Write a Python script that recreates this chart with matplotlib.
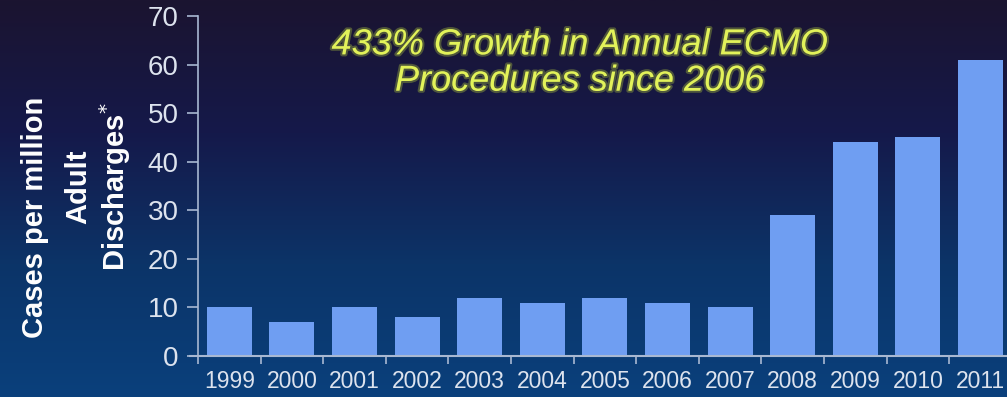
import numpy as np
from matplotlib import pyplot as plt
import matplotlib.patheffects as pe
from matplotlib.colors import LinearSegmentedColormap

years = ['1999', '2000', '2001', '2002', '2003', '2004', '2005',
         '2006', '2007', '2008', '2009', '2010', '2011']
cases = [10, 7, 10, 8, 12, 11, 12, 11, 10, 29, 44, 45, 61]
yticks = [0, 10, 20, 30, 40, 50, 60, 70]
note = '433% Growth in Annual ECMO\nProcedures since 2006'

plt.rcParams['font.family'] = ['Liberation Sans', 'DejaVu Sans']

fig = plt.figure(figsize=(10.07, 3.97), dpi=100)

# background gradient (dark purple top -> blue bottom)
bg = fig.add_axes([0, 0, 1, 1], zorder=-1)
cmap = LinearSegmentedColormap.from_list('bg', ['#1b1430', '#15194a', '#0c3468', '#0a407c'])
bg.imshow(np.linspace(0, 1, 256).reshape(-1, 1), aspect='auto', cmap=cmap,
          extent=[0, 1, 0, 1], origin='upper')
bg.axis('off')

W, H = 1007, 397
ax = fig.add_axes([198 / W, (H - 356) / H, 13 * 62.6 / W, 340 / H])
ax.patch.set_alpha(0)

x = np.arange(len(years))
ax.bar(x, cases, width=0.72, color='#6f9ef2', zorder=2)

ax.set_xlim(-0.5, len(years) - 0.5)
ax.set_ylim(0, 70)
ax.set_yticks(yticks)
ax.set_xticks(x)
ax.set_xticklabels(years, fontsize=16.5, color='#dde3ee')
ax.set_xticks(np.arange(-0.5, len(years), 1), minor=True)
ax.tick_params(axis='x', which='major', length=0, pad=10)
ax.tick_params(axis='x', which='minor', length=6, color='#a8b8d2', width=1.2)
ax.tick_params(axis='y', length=8, color='#a8b8d2', width=1.2,
               labelsize=20, labelcolor='#dde3ee', pad=6)

for s in ['top', 'right']:
    ax.spines[s].set_visible(False)
ax.spines['left'].set_color('#a8b8d2')
ax.spines['bottom'].set_color('#a8b8d2')
ax.spines['left'].set_linewidth(1.2)
ax.spines['bottom'].set_linewidth(1.5)
ax.spines['bottom'].set_bounds(-0.63, len(years) - 0.5)

# y-axis label lines
fig.text(35 / W, 1 - 217 / H, 'Cases per million', rotation=90, ha='center', va='center',
         fontsize=21, fontweight='bold', color='white')
fig.text(78 / W, 1 - 187 / H, 'Adult', rotation=90, ha='center', va='center',
         fontsize=21, fontweight='bold', color='white')
fig.text(115 / W, 1 - 187 / H, 'Discharges$^{*}$', rotation=90, ha='center', va='center',
         fontsize=21, fontweight='bold', color='white')

fig.text(580 / W, 1 - 63 / H, note, ha='center', va='center', fontsize=26,
         style='italic', color='#e2f25a', linespacing=1.05,
         path_effects=[pe.withStroke(linewidth=3, foreground='#7d8c3c', alpha=0.55)])

plt.savefig('out.png', dpi=100)
